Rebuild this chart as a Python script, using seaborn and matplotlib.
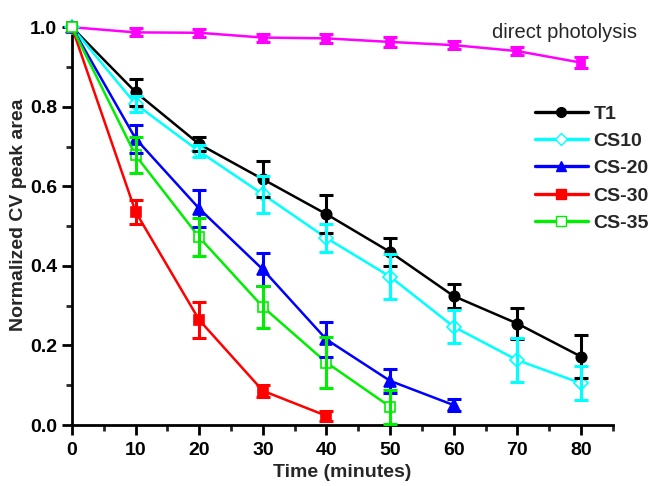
import numpy as np
import pandas as pd
import matplotlib
matplotlib.use("Agg")
import matplotlib.pyplot as plt
import seaborn as sns
from matplotlib.ticker import MultipleLocator

# ---- data ----
time_t1 = [0, 10, 20, 30, 40, 50, 60, 70, 80]
t1 = [1.0, 0.837, 0.706, 0.618, 0.530, 0.435, 0.324, 0.255, 0.172]
t1_err = [0.0, 0.034, 0.017, 0.045, 0.048, 0.035, 0.030, 0.040, 0.054]

time_cs10 = [0, 10, 20, 30, 40, 50, 60, 70, 80]
cs10 = [1.0, 0.807, 0.688, 0.580, 0.470, 0.373, 0.247, 0.163, 0.105]
cs10_err = [0.0, 0.020, 0.015, 0.047, 0.035, 0.057, 0.042, 0.056, 0.043]

time_cs20 = [0, 10, 20, 30, 40, 50, 60]
cs20 = [1.0, 0.720, 0.544, 0.391, 0.215, 0.111, 0.050]
cs20_err = [0.0, 0.035, 0.047, 0.042, 0.045, 0.030, 0.015]

time_cs30 = [0, 10, 20, 30, 40]
cs30 = [1.0, 0.536, 0.264, 0.086, 0.023]
cs30_err = [0.0, 0.030, 0.046, 0.015, 0.012]

time_cs35 = [0, 10, 20, 30, 40, 50]
cs35 = [1.0, 0.678, 0.472, 0.297, 0.157, 0.046]
cs35_err = [0.0, 0.045, 0.048, 0.052, 0.065, 0.043]

time_dp = [0, 10, 20, 30, 40, 50, 60, 70, 80]
dp = [1.0, 0.987, 0.986, 0.974, 0.972, 0.963, 0.955, 0.940, 0.911]
dp_err = [0.0, 0.010, 0.010, 0.010, 0.012, 0.012, 0.010, 0.010, 0.013]

x_ticks = [0, 10, 20, 30, 40, 50, 60, 70, 80]
y_ticks = [0.0, 0.2, 0.4, 0.6, 0.8, 1.0]

sns.set_style("ticks")
plt.rcParams["font.family"] = ["Liberation Sans", "DejaVu Sans"]

fig = plt.figure(figsize=(6.54, 4.86), dpi=100)
ax = fig.add_axes([0.110, 0.1255, 0.827, 0.8185])

series = [
    ("direct photolysis", time_dp, dp, dp_err, "#FF00FF", "s", "#FF00FF", 5.5, False),
    ("T1", time_t1, t1, t1_err, "#000000", "o", "#000000", 7.5, True),
    ("CS10", time_cs10, cs10, cs10_err, "#00FFFF", "D", "white", 7, True),
    ("CS-20", time_cs20, cs20, cs20_err, "#0000FF", "^", "#0000FF", 8, True),
    ("CS-30", time_cs30, cs30, cs30_err, "#FF0000", "s", "#FF0000", 7, True),
    ("CS-35", time_cs35, cs35, cs35_err, "#00EE00", "s", "white", 7, True),
]

handles = []
for name, xs, ys, es, col, mk, fc, ms, in_leg in series:
    df = pd.DataFrame({"t": xs, "v": ys})
    sns.lineplot(data=df, x="t", y="v", ax=ax, color=col, lw=1.8,
                 marker=mk, markersize=ms, markerfacecolor=fc,
                 markeredgecolor=col, markeredgewidth=1.2, zorder=3,
                 legend=False)
    ax.errorbar(xs[1:], ys[1:], yerr=es[1:], fmt="none", ecolor=col,
                elinewidth=2.2, capsize=5, capthick=2.2, zorder=4)
    if in_leg:
        handles.append(plt.Line2D([], [], color=col, lw=2.4, marker=mk,
                                  markersize=ms - 0.5, markerfacecolor=fc,
                                  markeredgecolor=col, label=name))

ax.set_xlim(0, 85)
ax.set_ylim(0, 1.0)
ax.set_xticks(x_ticks)
ax.set_yticks(y_ticks)
ax.set_yticklabels([f"{v:.1f}" for v in y_ticks])
ax.xaxis.set_minor_locator(MultipleLocator(5))
ax.yaxis.set_minor_locator(MultipleLocator(0.1))
for s in ["top", "right"]:
    ax.spines[s].set_visible(False)
for s in ["left", "bottom"]:
    ax.spines[s].set_linewidth(2.0)
    ax.spines[s].set_color("black")
ax.tick_params(which="major", direction="out", length=7, width=2.0,
               labelsize=14, colors="black")
ax.tick_params(axis="x", which="major", pad=5)
ax.tick_params(which="minor", direction="out", length=4, width=2.0)
for lbl in ax.get_xticklabels() + ax.get_yticklabels():
    lbl.set_fontweight("bold")
ax.set_xlabel("Time (minutes)", fontsize=14, fontweight="bold")
ax.set_ylabel("Normalized CV peak area", fontsize=14, fontweight="bold")
ax.xaxis.set_label_coords(0.5, -0.097)
ax.yaxis.set_label_coords(-0.083, 0.528)

ax.text(1.045, 0.987, "direct photolysis", transform=ax.transAxes,
        fontsize=14.5, ha="right", va="center")

leg = fig.legend(handles=handles, loc="upper left",
                 bbox_to_anchor=(535 / 654, 1 - 105 / 486),
                 bbox_transform=fig.transFigure,
                 frameon=False, handlelength=2.7, labelspacing=0.5,
                 borderpad=0, borderaxespad=0,
                 prop={"size": 14, "weight": "bold"}, handletextpad=0.3)
for l in ax.lines:
    l.set_clip_on(False)

fig.savefig("out.png", dpi=100)
